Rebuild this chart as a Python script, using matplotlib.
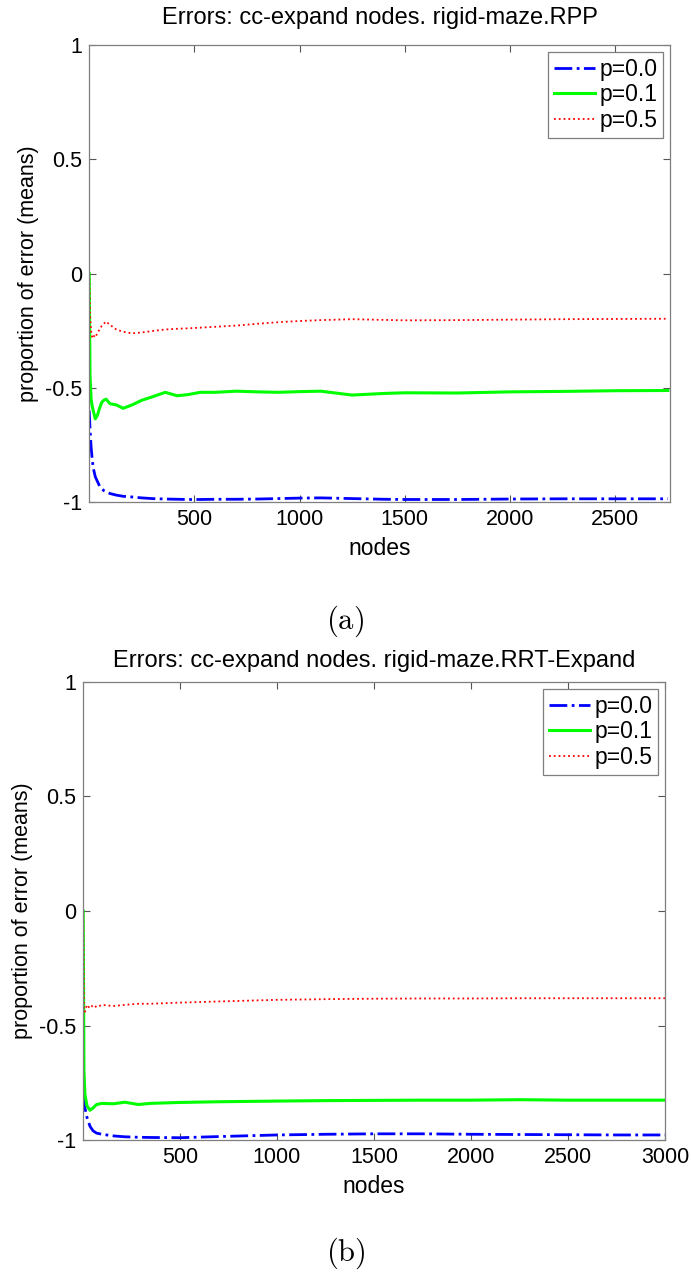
import numpy as np
import matplotlib
matplotlib.use("Agg")
import matplotlib.pyplot as plt

plt.rcParams['font.family'] = ['Liberation Sans', 'DejaVu Sans']
plt.rcParams['axes.unicode_minus'] = False
plt.rcParams['mathtext.fontset'] = 'cm'

# panel (a): rigid-maze.RPP
a_x = [1, 5, 10, 15, 20, 30, 40, 50, 60, 70, 81, 100, 130, 162, 205, 250, 300, 362, 419, 470, 529,
       600, 700, 800, 900, 1000, 1100, 1250, 1400, 1500, 1750, 2000, 2250, 2500, 2750]
a_p00 = [-0.60, -0.68, -0.76, -0.81, -0.85, -0.89, -0.91, -0.93, -0.94, -0.95, -0.955, -0.963, -0.97, -0.975,
         -0.978, -0.982, -0.985, -0.987, -0.988, -0.989, -0.989, -0.988, -0.988, -0.987, -0.985, -0.983, -0.982,
         -0.985, -0.988, -0.989, -0.989, -0.987, -0.986, -0.986, -0.986]
a_p01 = [0.0, -0.45, -0.55, -0.58, -0.60, -0.636, -0.62, -0.59, -0.565, -0.555, -0.55, -0.57, -0.575, -0.59,
         -0.575, -0.555, -0.54, -0.52, -0.535, -0.53, -0.52, -0.52, -0.515, -0.518, -0.52, -0.517, -0.515,
         -0.532, -0.525, -0.522, -0.523, -0.518, -0.516, -0.513, -0.512]
a_p05 = [0.0, -0.18, -0.25, -0.28, -0.27, -0.28, -0.26, -0.245, -0.23, -0.22, -0.21, -0.225, -0.245, -0.255,
         -0.262, -0.258, -0.252, -0.245, -0.242, -0.24, -0.237, -0.233, -0.228, -0.22, -0.213, -0.208, -0.204,
         -0.2, -0.203, -0.205, -0.204, -0.202, -0.2, -0.199, -0.198]

# panel (b): rigid-maze.RRT-Expand
b_x = [1, 5, 10, 20, 36, 52, 70, 98, 155, 216, 284, 350, 500, 700, 1000, 1250, 1500, 1750, 2000, 2250,
       2500, 2750, 3000]
b_p00 = [-0.80, -0.83, -0.86, -0.90, -0.94, -0.96, -0.97, -0.975, -0.982, -0.986, -0.988, -0.989, -0.99,
         -0.985, -0.978, -0.975, -0.973, -0.973, -0.975, -0.976, -0.977, -0.978, -0.978]
b_p01 = [0.0, -0.70, -0.80, -0.85, -0.87, -0.86, -0.845, -0.84, -0.842, -0.835, -0.845, -0.84, -0.836,
         -0.833, -0.83, -0.828, -0.827, -0.826, -0.826, -0.824, -0.826, -0.826, -0.826]
b_p05 = [0.0, -0.43, -0.44, -0.41, -0.425, -0.41, -0.42, -0.41, -0.415, -0.41, -0.405, -0.405, -0.40,
         -0.395, -0.388, -0.385, -0.383, -0.382, -0.382, -0.381, -0.381, -0.381, -0.381]

labels = ["p=0.0", "p=0.1", "p=0.5"]
yticks = [-1, -0.5, 0, 0.5, 1]
ytick_labels = ["-1", "-0.5", "0", "0.5", "1"]

fig = plt.figure(figsize=(6.91, 12.74), dpi=100)


def draw(ax, x, p00, p01, p05, xmax, xticks, title, tpad):
    ax.plot(x, p00, color=(0, 0, 1), linestyle="-.", linewidth=2, label=labels[0])
    ax.plot(x, p01, color=(0, 1, 0), linestyle="-", linewidth=2.2, label=labels[1])
    ax.plot(x, p05, color=(1, 0, 0), linestyle=":", linewidth=1.3, label=labels[2])
    ax.set_xlim(0, xmax)
    ax.set_ylim(-1, 1)
    ax.set_xticks(xticks)
    ax.set_xticklabels([str(t) for t in xticks])
    ax.set_yticks(yticks)
    ax.set_yticklabels(ytick_labels)
    ax.tick_params(direction="in", top=True, right=True, labelsize=15.5, length=5, color="#555555",
                   width=0.8, pad=5)
    for s in ax.spines.values():
        s.set_color("#7f7f7f")
        s.set_linewidth(0.9)
    ax.set_xlabel("nodes", fontsize=16.5, labelpad=5)
    ax.set_ylabel("proportion of error (means)", fontsize=15.5, labelpad=4)
    ax.set_title(title, fontsize=17, pad=tpad)
    leg = ax.legend(loc="upper right", fontsize=16.5, fancybox=False, framealpha=1,
                    borderaxespad=0.3, handlelength=1.8, labelspacing=0.12, handletextpad=0.2,
                    borderpad=0.25)
    leg.get_frame().set_edgecolor("#7f7f7f")
    leg.get_frame().set_linewidth(0.9)


ax1 = fig.add_axes([89 / 691, 1 - 502 / 1274, 581 / 691, 457 / 1274])
draw(ax1, a_x, a_p00, a_p01, a_p05, 2760, [500, 1000, 1500, 2000, 2500],
     "Errors: cc-expand nodes. rigid-maze.RPP", 15)

ax2 = fig.add_axes([83 / 691, 1 - 1140 / 1274, 582 / 691, 458 / 1274])
draw(ax2, b_x, b_p00, b_p01, b_p05, 3000, [500, 1000, 1500, 2000, 2500, 3000],
     "Errors: cc-expand nodes. rigid-maze.RRT-Expand", 11)

fig.text(0.5, 1 - 621 / 1274, r"$\mathrm{(a)}$", ha="center", va="center", fontsize=22)
fig.text(0.5, 1 - 1253 / 1274, r"$\mathrm{(b)}$", ha="center", va="center", fontsize=22)

fig.savefig("out.png", dpi=100)
